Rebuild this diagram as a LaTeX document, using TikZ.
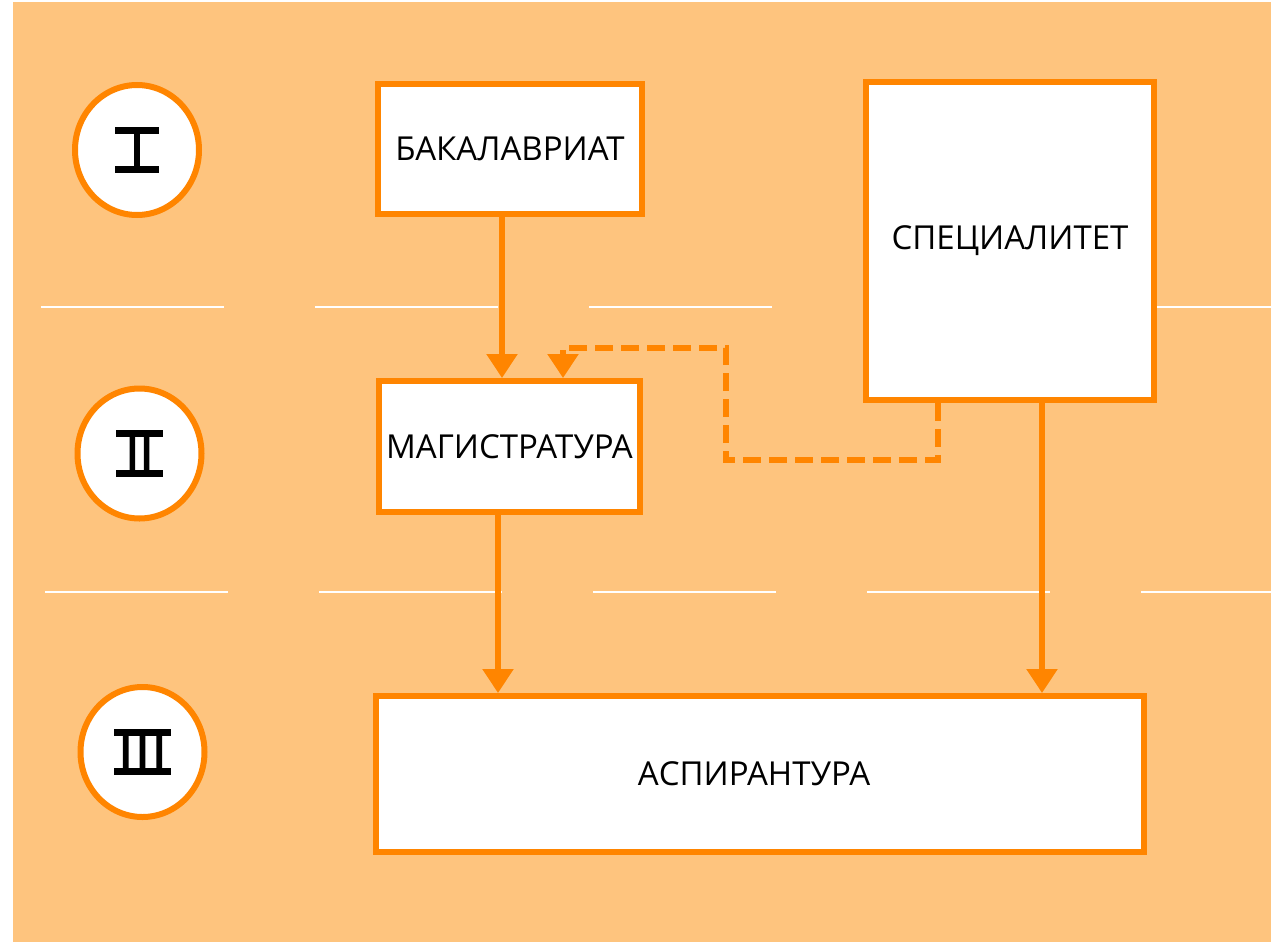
\documentclass[tikz,border=0pt]{standalone}
\usepackage{fontspec}
\setmainfont{Open Sans}
\newfontfamily\romfont{DejaVu Sans}[FakeBold=2.5]
\usetikzlibrary{arrows.meta,shapes.geometric}
\definecolor{bgorange}{RGB}{254,196,126}
\definecolor{strokeorange}{RGB}{255,133,0}
% Roman numeral with full-width top and bottom bars
\newcommand\barroman[2]{\vbox{\hrule height 7pt width #1\nointerlineskip
  \hbox to #1{\hss\romfont\fontsize{45}{45}\selectfont#2\hss}\nointerlineskip
  \hrule height 7pt width #1}}
\tikzset{
  levelbox/.style={draw=strokeorange, line width=6pt, fill=white, inner sep=0pt,
    font=\fontsize{33}{40}\selectfont},
  levelmark/.style={ellipse, draw=strokeorange, line width=6pt, fill=white, inner sep=0pt,
    minimum width=124pt, minimum height=130pt},
  arr/.style={draw=strokeorange, line width=5.5pt, -{Triangle[length=24pt,width=30pt]}},
  dasharr/.style={arr, dash pattern=on 18pt off 8pt},
  sepline/.style={draw=white, line width=2.5pt, dash pattern=on 183pt off 91pt}
}
\begin{document}
\begin{tikzpicture}[x=1pt,y=-1pt]
\useasboundingbox (0,0) rectangle (1281,942);
\fill[bgorange] (13,2) rectangle (1271,942);
% separator lines
\draw[sepline] (41,307) -- (1271,307);
\draw[sepline] (45,592) -- (1271,592);
% level marks
\node[levelmark] (l1) at (137,150) {\barroman{44pt}{I}};
\node[levelmark] (l2) at (139.5,453.5) {\barroman{47pt}{I\kern1pt I}};
\node[levelmark] (l3) at (142.5,752) {\barroman{57pt}{I\kern3.5pt I\kern3.5pt I}};
% boxes
\node[levelbox, minimum width=264pt, minimum height=130pt] (b) at (510,149) {БАКАЛАВРИАТ};
\node[levelbox, minimum width=288pt, minimum height=318pt] (s) at (1010,241) {СПЕЦИАЛИТЕТ};
\node[levelbox, minimum width=261pt, minimum height=131pt] (m) at (509.5,446.5) {МАГИСТРАТУРА};
\node[levelbox, minimum width=768pt, minimum height=156pt] (a) at (760,774) {\hspace*{-12pt}АСПИРАНТУРА};
% connectors
\draw[arr] (b.south -| 502,0) -- (m.north -| 502,0);
\draw[dasharr] (s.south -| 938,0) -- (938,460) -- (726,460) -- (726,348) -- (563,348) -- (m.north -| 563,0);
\draw[arr] (m.south -| 498,0) -- (a.north -| 498,0);
\draw[arr] (s.south -| 1042,0) -- (a.north -| 1042,0);
\end{tikzpicture}
\end{document}
